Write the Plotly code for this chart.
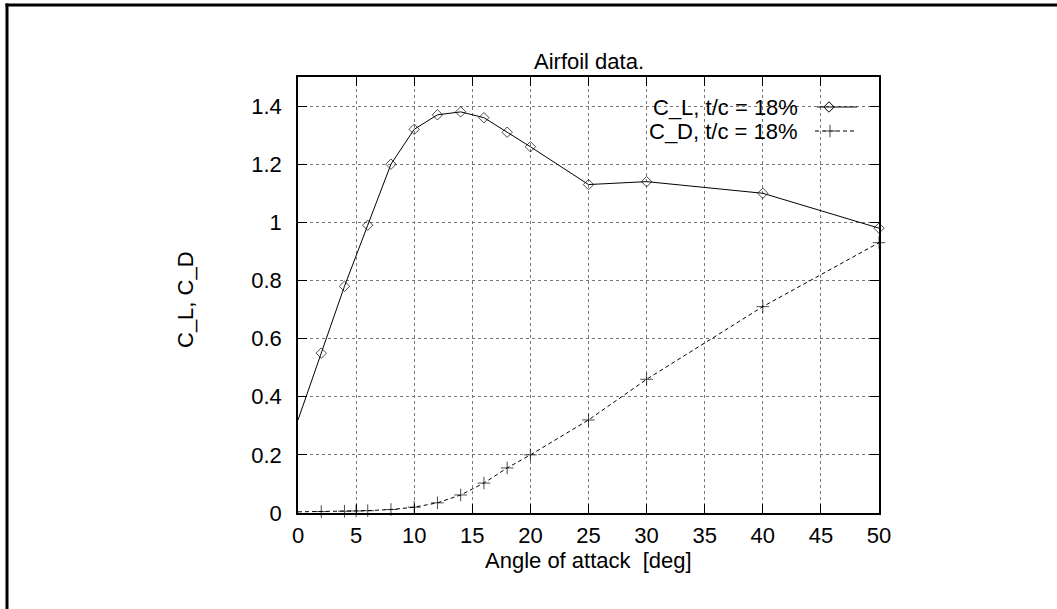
import plotly.graph_objects as go

# ---- data ----
alpha = [0, 2, 4, 6, 8, 10, 12, 14, 16, 18, 20, 25, 30, 40, 50]
cl = [0.32, 0.55, 0.78, 0.99, 1.20, 1.32, 1.37, 1.38, 1.36, 1.31, 1.26, 1.13, 1.14, 1.10, 0.98]

alpha_d = [0, 2, 4, 5, 6, 8, 10, 12, 14, 16, 18, 20, 25, 30, 40, 50]
cd = [0.004, 0.005, 0.006, 0.007, 0.008, 0.012, 0.02, 0.035, 0.062, 0.103, 0.155, 0.20, 0.32, 0.46, 0.71, 0.93]

x_ticks = [0, 5, 10, 15, 20, 25, 30, 35, 40, 45, 50]
y_ticks = [0, 0.2, 0.4, 0.6, 0.8, 1, 1.2, 1.4]
y_tick_labels = ["0", "0.2", "0.4", "0.6", "0.8", "1", "1.2", "1.4"]

label_cl = "C_L, t/c = 18%"
label_cd = "C_D, t/c = 18%"

# ---- layout constants (pixels) ----
W, H = 1057, 609
L, R, T, B = 298, 879, 77, 513
FONT = dict(family="Liberation Sans, Arial, sans-serif", size=22, color="black")


def px_x(p):
    return (p - L) / (R - L)


def px_y(p):
    return (B - p) / (B - T)


fig = go.Figure()

fig.add_trace(go.Scatter(
    x=alpha, y=cl, mode="lines+markers", name=label_cl,
    line=dict(color="black", width=1),
    marker=dict(symbol="diamond-open", size=[0] + [8] * (len(alpha) - 1),
                color="black", line=dict(width=1, color="black")),
    showlegend=False, cliponaxis=False))

fig.add_trace(go.Scatter(
    x=alpha_d, y=cd, mode="lines+markers", name=label_cd,
    line=dict(color="black", width=1, dash="4px,3px"),
    marker=dict(symbol="cross-thin", size=[0] + [9] * (len(alpha_d) - 1),
                color="black", line=dict(width=1, color="black")),
    showlegend=False, cliponaxis=False))

# legend keys on an overlay axis expressed in pixels
fig.add_trace(go.Scatter(
    x=[817, 857], y=[107, 107], mode="lines", xaxis="x2", yaxis="y2",
    line=dict(color="black", width=1), showlegend=False, hoverinfo="skip"))
fig.add_trace(go.Scatter(
    x=[829], y=[107], mode="markers", xaxis="x2", yaxis="y2",
    marker=dict(symbol="diamond-open", size=8, color="black", line=dict(width=1)),
    showlegend=False, hoverinfo="skip"))
fig.add_trace(go.Scatter(
    x=[815, 855], y=[131, 131], mode="lines", xaxis="x2", yaxis="y2",
    line=dict(color="black", width=1, dash="4px,3px"), showlegend=False, hoverinfo="skip"))
fig.add_trace(go.Scatter(
    x=[830], y=[131], mode="markers", xaxis="x2", yaxis="y2",
    marker=dict(symbol="cross-thin", size=9, color="black", line=dict(width=1)),
    showlegend=False, hoverinfo="skip"))

axis_common = dict(
    showline=True, linecolor="black", linewidth=1.5, mirror="ticks",
    ticks="inside", ticklen=9, tickcolor="black", tickwidth=1,
    showgrid=True, gridcolor="#777", griddash="dot", gridwidth=1,
    zeroline=False, tickfont=FONT,
)

fig.update_layout(
    width=W, height=H, autosize=False,
    margin=dict(l=L, r=W - R, t=T, b=H - B, pad=0),
    paper_bgcolor="white", plot_bgcolor="white",
    font=FONT,
    xaxis=dict(range=[0, 50], tickvals=x_ticks, ticklabelstandoff=2, **axis_common),
    yaxis=dict(range=[0, 1.5], tickvals=y_ticks, ticktext=y_tick_labels,
               ticklabelstandoff=10, **axis_common),
    xaxis2=dict(range=[L, R], overlaying="x", visible=False, fixedrange=True),
    yaxis2=dict(range=[B, T], overlaying="y", visible=False, fixedrange=True),
    annotations=[
        dict(text="Airfoil data.", xref="paper", yref="paper",
             x=0.5, y=px_y(62), xanchor="center", yanchor="middle",
             showarrow=False, font=FONT),
        dict(text="Angle of attack  [deg]", xref="paper", yref="paper",
             x=0.5, y=px_y(560), xanchor="center", yanchor="middle",
             showarrow=False, font=FONT),
        dict(text="C_L, C_D", xref="paper", yref="paper", textangle=-90,
             x=px_x(185), y=px_y(300), xanchor="center", yanchor="middle",
             showarrow=False, font=FONT),
        dict(text=label_cl, xref="x2", yref="y2", x=800, y=107,
             xanchor="right", yanchor="middle", showarrow=False, font=FONT),
        dict(text=label_cd, xref="x2", yref="y2", x=800, y=131,
             xanchor="right", yanchor="middle", showarrow=False, font=FONT),
    ],
    shapes=[
        # outer frame: left and top edges (right and bottom lie outside the picture)
        dict(type="line", xref="paper", yref="paper",
             x0=px_x(7), x1=px_x(7), y0=px_y(H + 50), y1=px_y(3.5),
             line=dict(color="black", width=3), layer="below"),
        dict(type="line", xref="paper", yref="paper",
             x0=px_x(5.5), x1=px_x(W + 50), y0=px_y(5), y1=px_y(5),
             line=dict(color="black", width=3), layer="below"),
    ],
)

fig.write_html("out.html")
